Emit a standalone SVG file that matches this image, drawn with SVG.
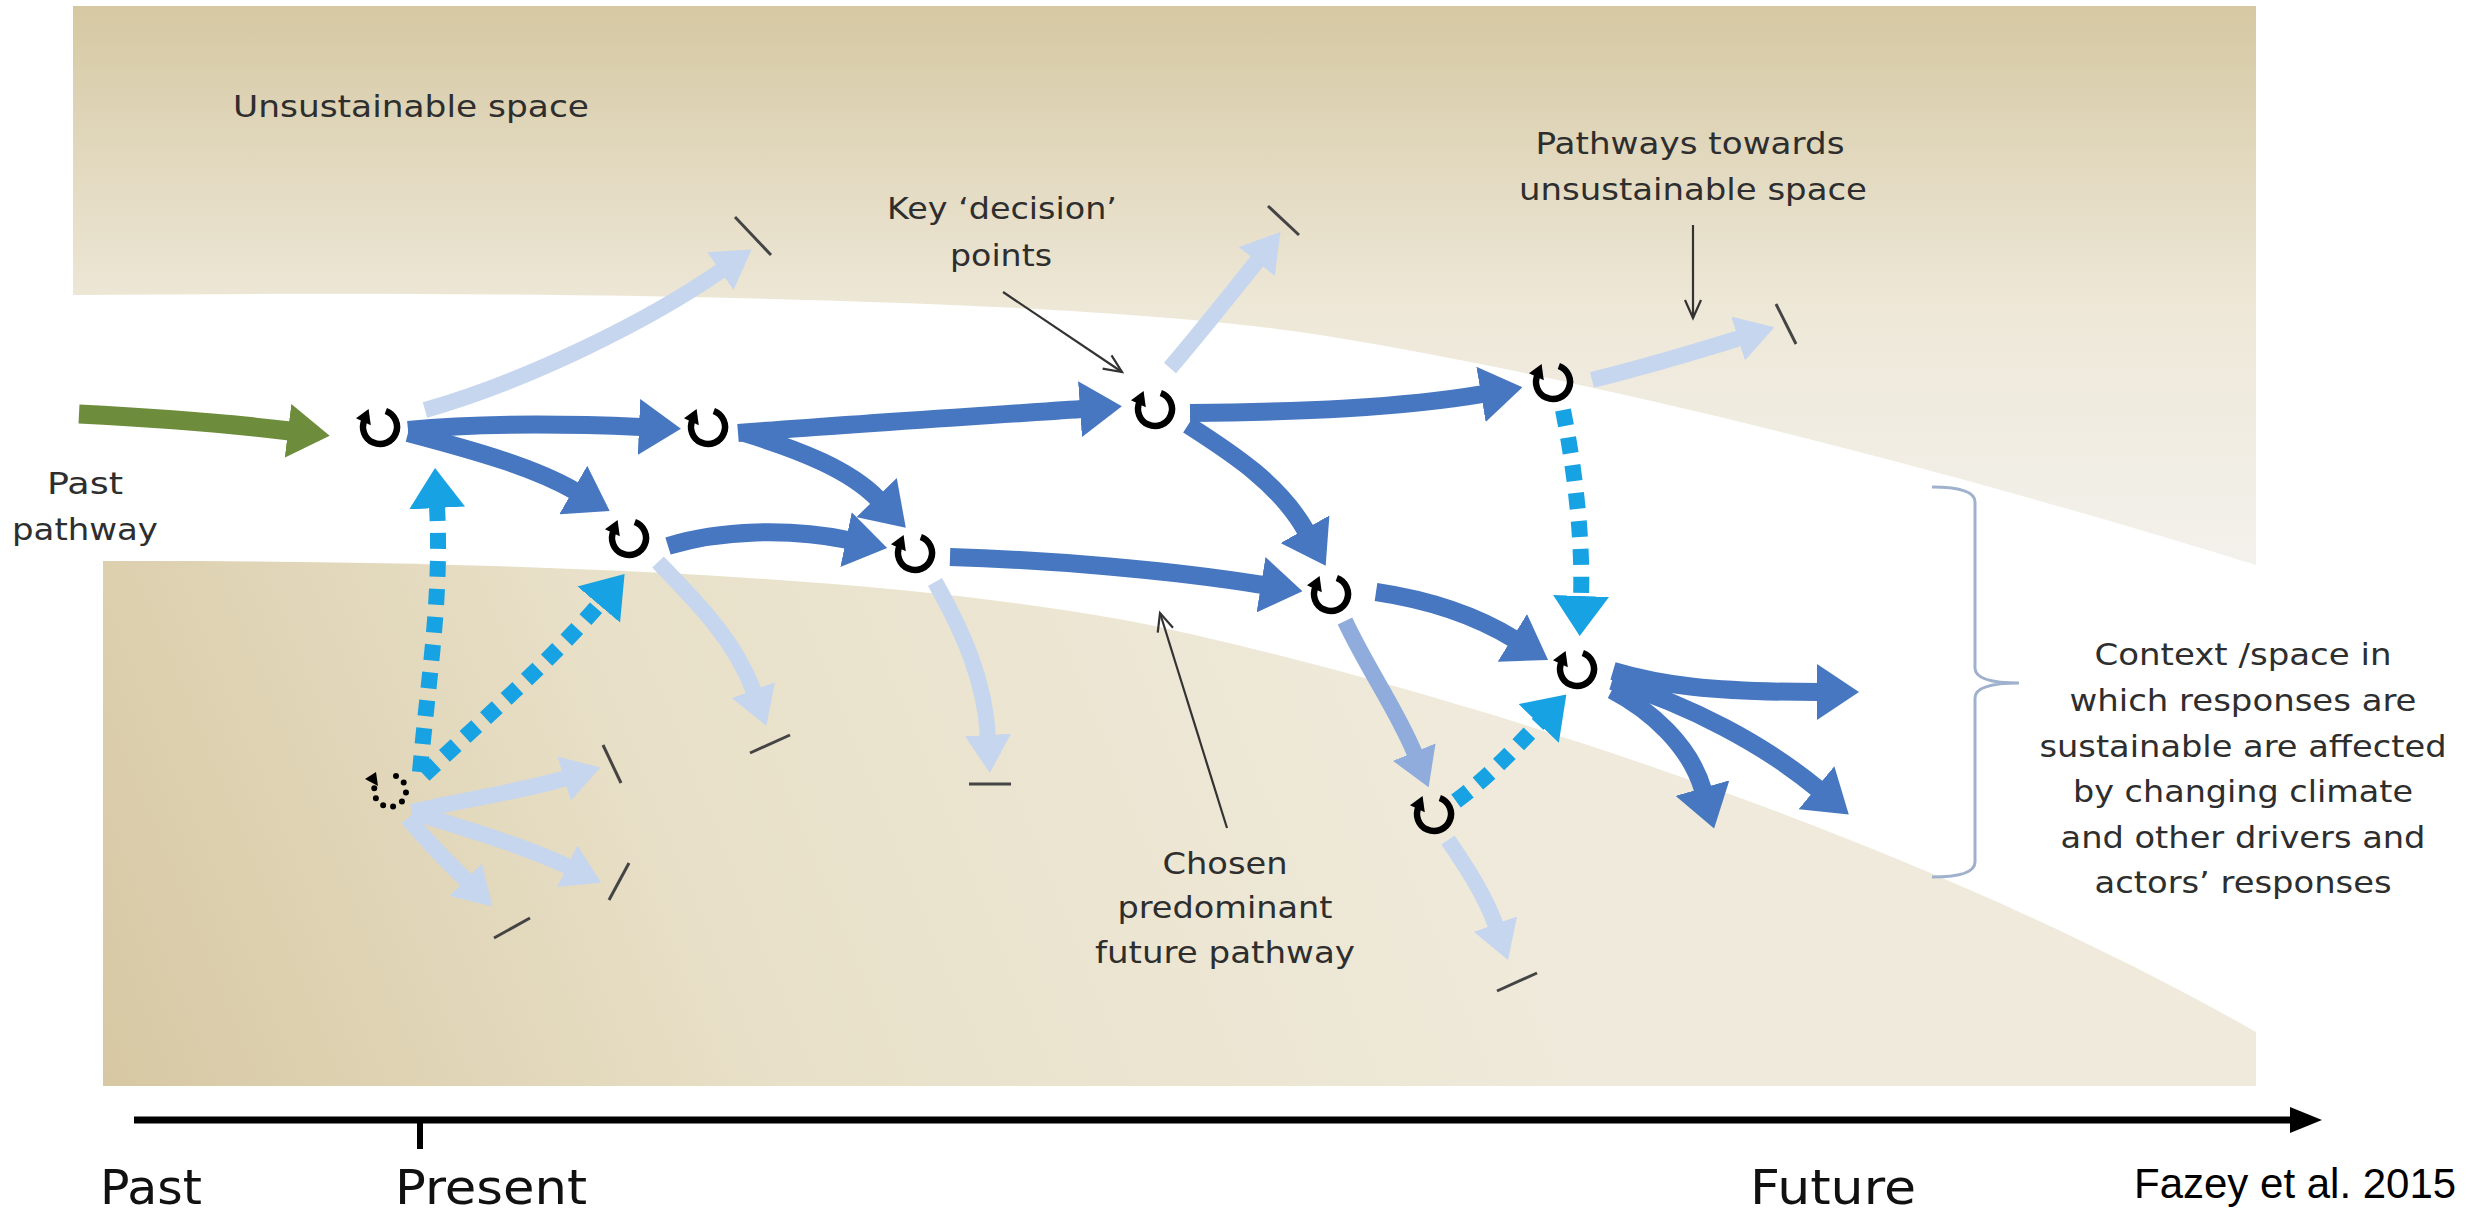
<svg xmlns="http://www.w3.org/2000/svg" width="2476" height="1216" viewBox="0 0 2476 1216">
<style>
.t{font-family:"DejaVu Sans","Open Sans",sans-serif;font-size:31px;fill:#2e2e2e;text-anchor:middle}
.ax{font-family:"DejaVu Sans","Open Sans",sans-serif;font-size:48px;fill:#111}
.dk{fill:none;stroke:#4677c0;stroke-width:18;marker-end:url(#hd)}
.lt{fill:none;stroke:#c6d6ef;stroke-width:16;marker-end:url(#hl)}
.md{fill:none;stroke:#8facdc;stroke-width:16;marker-end:url(#hm)}
.gr{fill:none;stroke:#6d8d3c;stroke-width:19;marker-end:url(#hg)}
.cy{fill:none;stroke:#17a2e3;stroke-width:16;stroke-dasharray:16 12;marker-end:url(#hc)}
.pt{fill:none;stroke:#333;stroke-width:2.2;marker-end:url(#hp)}
.tk{stroke:#444;stroke-width:3}
</style>
<defs>
<linearGradient id="gTop" gradientUnits="userSpaceOnUse" x1="0" y1="6" x2="0" y2="565">
<stop offset="0" stop-color="#d5c8a2"/><stop offset="0.3" stop-color="#e3dac1"/><stop offset="0.55" stop-color="#eee8d8"/><stop offset="1" stop-color="#f3f1ec"/>
</linearGradient>
<linearGradient id="gLow" gradientUnits="userSpaceOnUse" x1="103" y1="1087" x2="1400" y2="560">
<stop offset="0" stop-color="#d7c8a3"/><stop offset="0.45" stop-color="#e8e0c8"/><stop offset="1" stop-color="#efeadb"/>
</linearGradient>
<marker id="hd" markerUnits="userSpaceOnUse" markerWidth="42" markerHeight="56" viewBox="0 0 42 56" refX="2" refY="28" orient="auto"><path d="M0,0 L42,28 L0,56 Z" fill="#4677c0"/></marker>
<marker id="hl" markerUnits="userSpaceOnUse" markerWidth="38" markerHeight="46" viewBox="0 0 38 46" refX="2" refY="23" orient="auto"><path d="M0,0 L38,23 L0,46 Z" fill="#c6d6ef"/></marker>
<marker id="hm" markerUnits="userSpaceOnUse" markerWidth="38" markerHeight="46" viewBox="0 0 38 46" refX="2" refY="23" orient="auto"><path d="M0,0 L38,23 L0,46 Z" fill="#8facdc"/></marker>
<marker id="hg" markerUnits="userSpaceOnUse" markerWidth="42" markerHeight="54" viewBox="0 0 42 54" refX="2" refY="27" orient="auto"><path d="M0,0 L42,27 L0,54 Z" fill="#6d8d3c"/></marker>
<marker id="hc" markerUnits="userSpaceOnUse" markerWidth="40" markerHeight="56" viewBox="0 0 40 56" refX="2" refY="28" orient="auto"><path d="M0,0 L40,28 L0,56 Z" fill="#17a2e3"/></marker>
<marker id="hp" markerUnits="userSpaceOnUse" markerWidth="24" markerHeight="22" viewBox="0 0 24 22" refX="21" refY="11" orient="auto"><path d="M3,3 L21,11 L3,19" fill="none" stroke="#333" stroke-width="2.2"/></marker>
<g id="cyc">
<path d="M5.8,-16 A17,17 0 1 1 -15.4,-7.2" fill="none" stroke="#000" stroke-width="6.5"/>
<polygon points="-24,-8.8 -9.2,-1.8 -11.4,-18" fill="#000"/>
</g>
</defs>

<g id="background">
<rect x="0" y="0" width="2476" height="1216" fill="#ffffff"/>
<path d="M73,6 L2256,6 L2256,565 C1950,470 1600,380 1320,335 C1100,300 600,290 73,295 Z" fill="url(#gTop)"/>
<path d="M103,561 C500,560 900,575 1150,625 C1450,690 1900,830 2256,1032 L2256,1086 L103,1086 Z" fill="url(#gLow)"/>
</g>

<g id="time-axis">
<line x1="134" y1="1120" x2="2296" y2="1120" stroke="#000" stroke-width="7"/>
<polygon points="2290,1107 2322,1120 2290,1133" fill="#000"/>
<line x1="420" y1="1120" x2="420" y2="1149" stroke="#000" stroke-width="6"/>
<text class="ax" x="100" y="1204" textLength="102" lengthAdjust="spacingAndGlyphs">Past</text>
<text class="ax" x="395" y="1204" textLength="192" lengthAdjust="spacingAndGlyphs">Present</text>
<text class="ax" x="1750" y="1204" textLength="166" lengthAdjust="spacingAndGlyphs">Future</text>
<text x="2134" y="1198" font-family="'Liberation Sans', Arial, sans-serif" font-size="42" fill="#000">Fazey et al. 2015</text>
</g>

<g id="connectors">
<path class="gr" d="M79,414 Q200,420 290,431"/>
<path class="lt" d="M425,410 C530,380 650,320 722,270"/>
<path class="lt" d="M1170,368 C1200,333 1230,295 1258,260"/>
<path class="lt" d="M1592,380 C1640,368 1695,352 1740,338"/>
<path class="lt" d="M658,562 C695,600 735,640 754,692"/>
<path class="lt" d="M935,582 C962,630 985,680 988,737"/>
<path class="lt" d="M1448,840 C1465,865 1485,895 1496,926"/>
<path class="lt" d="M412,812 C460,800 520,792 566,778"/>
<path class="lt" d="M412,812 C470,830 530,848 569,867"/>
<path class="lt" d="M408,818 C425,840 448,862 467,881"/>
<path class="md" d="M1345,621 C1368,670 1397,710 1415,754"/>
<path class="dk" d="M408,430 C480,423 570,424 641,427"/>
<path class="dk" d="M408,433 C480,452 535,468 575,491"/>
<path class="dk" d="M738,433 C850,424 980,416 1082,409"/>
<path class="dk" d="M744,433 C800,450 850,470 878,499"/>
<path class="dk" d="M668,546 C720,530 790,528 848,540"/>
<path class="dk" d="M950,557 C1050,560 1170,570 1263,585"/>
<path class="dk" d="M1188,425 C1235,455 1280,485 1306,531"/>
<path class="dk" d="M1190,413 C1300,412 1400,408 1483,394"/>
<path class="dk" d="M1376,592 C1430,600 1475,615 1514,639"/>
<path class="dk" d="M1613,671 C1660,685 1710,692 1819,692"/>
<path class="dk" d="M1612,681 C1690,705 1765,745 1818,789"/>
<path class="dk" d="M1612,690 C1650,710 1690,745 1703,790"/>
<path class="cy" d="M420,772 C428,680 442,600 437,506"/>
<path class="cy" d="M424,775 C480,722 550,662 600,603"/>
<path class="cy" d="M1563,410 C1575,470 1583,540 1581,598"/>
<path class="cy" d="M1456,801 C1490,776 1515,748 1540,722"/>
<line class="tk" x1="735" y1="217" x2="771" y2="255"/>
<line class="tk" x1="1268" y1="206" x2="1299" y2="235"/>
<line class="tk" x1="1776" y1="304" x2="1796" y2="344"/>
<line class="tk" x1="750" y1="753" x2="790" y2="735"/>
<line class="tk" x1="969" y1="784" x2="1011" y2="784"/>
<line class="tk" x1="1497" y1="991" x2="1537" y2="973"/>
<line class="tk" x1="603" y1="745" x2="621" y2="783"/>
<line class="tk" x1="629" y1="863" x2="609" y2="900"/>
<line class="tk" x1="494" y1="938" x2="530" y2="918"/>
<path class="pt" d="M1003,292 L1122,372"/>
<path class="pt" d="M1693,225 L1693,318"/>
<path class="pt" d="M1227,828 L1160,613"/>
<path d="M1932,487 Q1975,487 1975,502 L1975,668 Q1975,683 2019,683 Q1975,683 1975,698 L1975,862 Q1975,877 1932,877" fill="none" stroke="#9fb1cc" stroke-width="3"/>
</g>

<g id="node-n1" transform="translate(380,427)"><use href="#cyc"/></g>
<g id="node-n2" transform="translate(708,427)"><use href="#cyc"/></g>
<g id="node-n3" transform="translate(629,538)"><use href="#cyc"/></g>
<g id="node-n4" transform="translate(915,553)"><use href="#cyc"/></g>
<g id="node-n5" transform="translate(1155,409)"><use href="#cyc"/></g>
<g id="node-n6" transform="translate(1331,594)"><use href="#cyc"/></g>
<g id="node-n7" transform="translate(1553,382)"><use href="#cyc"/></g>
<g id="node-n8" transform="translate(1577,669)"><use href="#cyc"/></g>
<g id="node-n9" transform="translate(1434,814)"><use href="#cyc"/></g>
<g id="node-n0" transform="translate(390,791)">
<path d="M6,-15 A16,16 0 1 1 -14.5,-6.8" fill="none" stroke="#000" stroke-width="6" stroke-linecap="round" stroke-dasharray="0 10.2"/>
<polygon points="-25,-12 -12,-5 -14,-19" fill="#000"/>
</g>

<g id="labels">
<text class="t" x="411" y="117" textLength="356" lengthAdjust="spacingAndGlyphs">Unsustainable space</text>
<text class="t" x="1002" y="219" textLength="230" lengthAdjust="spacingAndGlyphs">Key ‘decision’</text>
<text class="t" x="1001" y="266" textLength="102" lengthAdjust="spacingAndGlyphs">points</text>
<text class="t" x="1690" y="154" textLength="309" lengthAdjust="spacingAndGlyphs">Pathways towards</text>
<text class="t" x="1693" y="200" textLength="348" lengthAdjust="spacingAndGlyphs">unsustainable space</text>
<text class="t" x="85" y="494" textLength="76" lengthAdjust="spacingAndGlyphs">Past</text>
<text class="t" x="85" y="540" textLength="146" lengthAdjust="spacingAndGlyphs">pathway</text>
<text class="t" x="1225" y="874" textLength="125" lengthAdjust="spacingAndGlyphs">Chosen</text>
<text class="t" x="1225" y="918" textLength="215" lengthAdjust="spacingAndGlyphs">predominant</text>
<text class="t" x="1225" y="963" textLength="260" lengthAdjust="spacingAndGlyphs">future pathway</text>
<text class="t" x="2243" y="665" textLength="297" lengthAdjust="spacingAndGlyphs">Context /space in</text>
<text class="t" x="2243" y="711" textLength="347" lengthAdjust="spacingAndGlyphs">which responses are</text>
<text class="t" x="2243" y="757" textLength="407" lengthAdjust="spacingAndGlyphs">sustainable are affected</text>
<text class="t" x="2243" y="802" textLength="340" lengthAdjust="spacingAndGlyphs">by changing climate</text>
<text class="t" x="2243" y="848" textLength="365" lengthAdjust="spacingAndGlyphs">and other drivers and</text>
<text class="t" x="2243" y="893" textLength="297" lengthAdjust="spacingAndGlyphs">actors’ responses</text>
</g>
</svg>
